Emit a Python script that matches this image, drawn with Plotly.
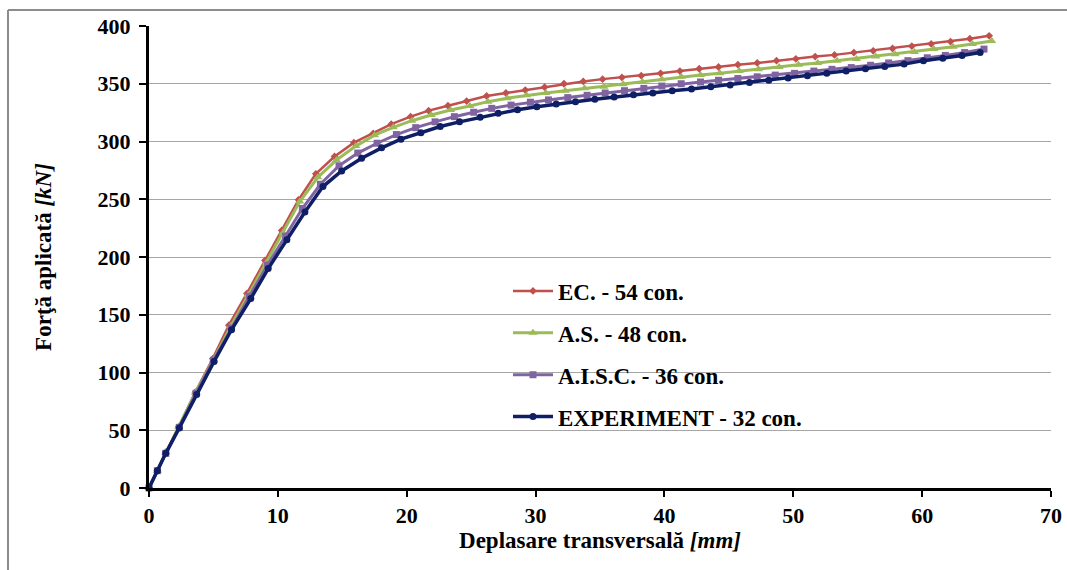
import plotly.graph_objects as go

# EC. - 54 con.
ec_x = [0, 0.65, 1.3, 2.3, 3.6, 4.95, 6.2, 7.6, 9.0, 10.3, 11.6, 12.95, 14.4, 15.9, 17.4, 18.8,
        20.3, 21.7, 23.2, 24.65, 26.2, 27.7, 29.2, 30.7, 32.2, 33.7, 35.2, 36.7, 38.2, 39.7,
        41.2, 42.7, 44.2, 45.7, 47.2, 48.7, 50.2, 51.7, 53.2, 54.7, 56.2, 57.7, 59.2, 60.7,
        62.2, 63.7, 65.2]
ec_y = [0, 15, 31, 53, 83, 112, 141, 168.5, 197, 223, 249.5, 272, 287, 299, 307, 315,
        321.5, 326.7, 331, 335, 339.4, 342, 344.5, 347, 350, 352, 354, 355.5, 357, 359,
        361, 363, 364.5, 366.5, 368, 370, 371.5, 373.5, 375, 377, 378.5, 380.5, 382.5, 384.5,
        386.5, 389, 391.5]

# A.S. - 48 con.
as_x = [0, 0.65, 1.3, 2.3, 3.6, 5.0, 6.35, 7.7, 9.1, 10.4, 11.7, 13.1, 14.55, 16.05, 17.5,
        18.95, 20.4, 21.9, 23.4, 24.9, 26.3, 27.8, 29.3, 30.8, 32.3, 33.8, 35.3, 36.8, 38.3,
        39.8, 41.3, 42.8, 44.3, 45.8, 47.3, 48.9, 50.4, 51.9, 53.4, 54.9, 56.4, 57.9, 59.4,
        60.9, 62.4, 63.9, 65.4]
as_y = [0, 15, 30.5, 53, 82.5, 111, 140, 167, 195, 221, 248, 269, 284, 296, 305.5,
        312.3, 318, 323, 327.3, 330.7, 334.5, 337.5, 340, 342, 344, 346, 347.5, 349.5, 351.5,
        354, 356, 357.5, 359, 361, 362.5, 364.5, 366.5, 368, 370, 371.5, 373.5, 375.5, 377.5,
        380, 382, 384.5, 387]

# A.I.S.C. - 36 con.
aisc_x = [0, 0.65, 1.3, 2.35, 3.65, 5.0, 6.4, 7.8, 9.2, 10.6, 11.9, 13.3, 14.75, 16.2, 17.7,
          19.2, 20.7, 22.2, 23.7, 25.2, 26.6, 28.1, 29.6, 31.0, 32.5, 34.0, 35.4, 36.9, 38.4,
          39.8, 41.3, 42.8, 44.2, 45.7, 47.2, 48.6, 50.1, 51.6, 53.0, 54.5, 56.0, 57.4, 58.9,
          60.4, 61.8, 63.3, 64.8]
aisc_y = [0, 15, 30, 52.5, 82, 110.5, 138.5, 166, 193, 218, 242, 263, 279, 290, 298.5,
          306, 312, 317, 321.5, 325.3, 328.7, 331.5, 334, 336, 338, 340, 342, 344, 346,
          348, 350, 351.5, 353, 354.5, 356, 357.5, 359, 361, 362.5, 364, 366, 368, 370,
          372.5, 374.5, 377, 380]

# EXPERIMENT - 32 con.
exp_x = [0, 0.65, 1.3, 2.35, 3.7, 5.05, 6.4, 7.9, 9.25, 10.7, 12.1, 13.5, 14.95, 16.5, 18.05,
         19.55, 21.1, 22.6, 24.1, 25.7, 27.1, 28.6, 30.1, 31.6, 33.1, 34.6, 36.1, 37.6, 39.1,
         40.6, 42.1, 43.6, 45.1, 46.6, 48.1, 49.6, 51.1, 52.6, 54.1, 55.6, 57.1, 58.6, 60.1,
         61.6, 63.1, 64.5]
exp_y = [0, 15, 30, 52, 81, 109.5, 137, 164, 190, 215, 239, 261, 274.5, 285.5, 294.5,
         302, 307.5, 313, 317, 321, 324.5, 327.5, 330, 332.5, 334.5, 336.5, 338.5, 340.5, 342,
         344, 345.5, 347.5, 349, 351, 353, 355, 357, 359, 361, 363, 365, 367, 370,
         372, 374.5, 377]

series = [
    ("EC. - 54 con.", ec_x, ec_y, "#C0504D", "diamond", 6, 2.5),
    ("A.S. - 48 con.", as_x, as_y, "#9BBB59", "triangle-up", 8, 3),
    ("A.I.S.C. - 36 con.", aisc_x, aisc_y, "#8064A2", "square", 7, 3),
    ("EXPERIMENT - 32 con.", exp_x, exp_y, "#0F1F66", "circle", 7, 3.5),
]

font_family = "Times New Roman, Liberation Serif, serif"

fig = go.Figure()
for i, (name, xs, ys, col, sym, ms, lw) in enumerate(series):
    fig.add_trace(go.Scatter(
        x=xs, y=ys, name=name, mode="lines+markers",
        line=dict(color=col, width=lw),
        marker=dict(symbol=sym, size=ms, color=col),
        legendgroup=f"g{i}", cliponaxis=False,
    ))

fig.update_layout(
    width=1067, height=570,
    margin=dict(l=149, r=16, t=26, b=82, autoexpand=False),
    paper_bgcolor="white", plot_bgcolor="white",
    font=dict(family=font_family, color="black", size=20),
    showlegend=True,
    legend=dict(
        x=0.398, y=0.473, xanchor="left", yanchor="top",
        bgcolor="rgba(0,0,0,0)",
        font=dict(family=font_family, size=23, color="black", weight="bold"),
        tracegroupgap=9, itemwidth=40,
    ),
    xaxis=dict(
        range=[0, 70], dtick=10, tick0=0, automargin=False,
        showgrid=False, zeroline=False,
        showline=True, linecolor="black", linewidth=3,
        ticks="outside", ticklen=6, tickwidth=2, tickcolor="black",
        ticklabelstandoff=0,
        tickfont=dict(family=font_family, size=22, color="black", weight="bold"),
        title=dict(text="Deplasare transversală <i>[mm]</i>",
                   font=dict(family=font_family, size=23, color="black", weight="bold"),
                   standoff=5),
    ),
    yaxis=dict(
        range=[0, 400], dtick=50, tick0=0, automargin=False,
        showgrid=True, gridcolor="#A6A6A6", gridwidth=1.3,
        zeroline=False,
        showline=True, linecolor="black", linewidth=3,
        ticks="outside", ticklen=7, tickwidth=2, tickcolor="black",
        ticklabelstandoff=4,
        tickfont=dict(family=font_family, size=22, color="black", weight="bold"),
        title=dict(text="Forţă aplicată <i>[kN]</i>",
                   font=dict(family=font_family, size=23, color="black", weight="bold"),
                   standoff=40),
    ),
    shapes=[
        dict(type="line", xref="paper", yref="paper",
             x0=(8 - 149) / 902, x1=(1067 - 149) / 902, y0=(488 - 10) / 462, y1=(488 - 10) / 462,
             line=dict(color="#8C8C8C", width=2)),
        dict(type="line", xref="paper", yref="paper",
             x0=(8 - 149) / 902, x1=(8 - 149) / 902, y0=(488 - 570) / 462, y1=(488 - 10) / 462,
             line=dict(color="#8C8C8C", width=2)),
    ],
)

fig.write_html("out.html", config={"displayModeBar": False},
               post_script="document.body.style.margin='0';")
